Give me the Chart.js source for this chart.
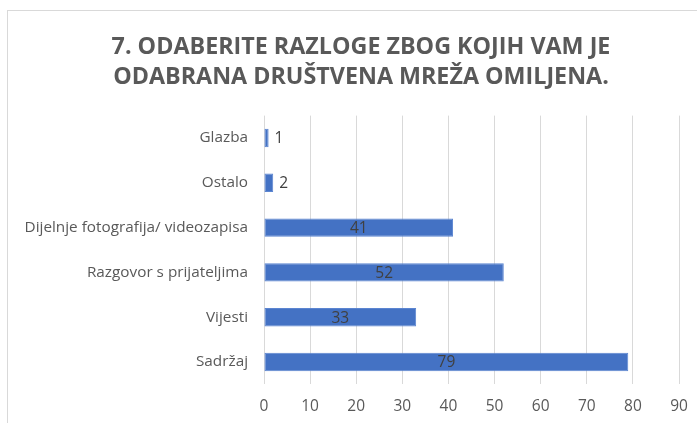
<!DOCTYPE html>
<html>
<head>
<meta charset="utf-8">
<script src="https://cdn.jsdelivr.net/npm/chart.js@4"></script>
<style>
  html, body { margin:0; padding:0; background:#fff; overflow:hidden; }
  #frame { position:absolute; left:7px; top:10px; width:740px; height:440px; border:1px solid #d9d9d9; }
  #wrap { position:absolute; left:0; top:0; width:697px; height:423px; }
</style>
</head>
<body>
<div id="frame"></div>
<div id="wrap"><canvas id="c"></canvas></div>
<script>
// Reasons the chosen social network is a favourite
const titleLines = ['7. ODABERITE RAZLOGE ZBOG KOJIH VAM JE', 'ODABRANA DRUŠTVENA MREŽA OMILJENA.'];
const categories = ['Glazba', 'Ostalo', 'Dijelnje fotografija/ videozapisa', 'Razgovor s prijateljima', 'Vijesti', 'Sadržaj'];
const counts = [1, 2, 41, 52, 33, 79];
const axisMax = 90;
const axisStep = 10;

const gray = '#595959';
const font = '"Open Sans", Arial, sans-serif';

// title drawn by hand so it can sit off-centre like the original
const chartTitle = {
  id: 'chartTitle',
  afterDraw(chart){
    const ctx = chart.ctx;
    ctx.save();
    ctx.font = 'bold 23.3px ' + font;
    ctx.fillStyle = gray;
    ctx.textAlign = 'center';
    ctx.textBaseline = 'middle';
    titleLines.forEach((t, i) => ctx.fillText(t, 361, 47 + i * 30));
    ctx.restore();
  }
};

// data labels: centered inside long bars, after the end for short ones
const barLabels = {
  id: 'barLabels',
  afterDatasetsDraw(chart){
    const ctx = chart.ctx;
    const meta = chart.getDatasetMeta(0);
    ctx.save();
    ctx.font = '15.5px ' + font;
    ctx.fillStyle = '#404040';
    ctx.textBaseline = 'middle';
    meta.data.forEach((bar, i) => {
      const v = counts[i];
      if(v < 5){
        ctx.textAlign = 'left';
        ctx.fillText(String(v), bar.x + 6, bar.y + 1);
      } else {
        ctx.textAlign = 'center';
        ctx.fillText(String(v), (bar.x + bar.base) / 2, bar.y + 1);
      }
    });
    ctx.restore();
  }
};

new Chart(document.getElementById('c'), {
  type: 'bar',
  data: {
    labels: categories,
    datasets: [{
      data: counts,
      backgroundColor: '#4472C4',
      borderColor: '#5b85d1',
      borderWidth: 1,
      borderSkipped: false,
      barPercentage: 0.41,
      categoryPercentage: 1
    }]
  },
  options: {
    indexAxis: 'y',
    responsive: true,
    maintainAspectRatio: false,
    animation: false,
    layout: { padding: { left: 0, right: 18, top: 115.6, bottom: 0 } },
    plugins: {
      legend: { display: false },
      tooltip: { enabled: false },
      title: { display: false }
    },
    scales: {
      x: {
        min: 0,
        max: axisMax,
        ticks: { stepSize: axisStep, color: gray, font: { family: font, size: 15.5 }, padding: 13 },
        grid: { color: '#d9d9d9', lineWidth: 1, drawTicks: false },
        border: { display: false },
        afterFit(scale){ scale.height = 38.6; scale.paddingLeft = 0; scale.paddingRight = 0; }
      },
      y: {
        ticks: { color: gray, font: { family: font, size: 15.3 }, padding: 16 },
        grid: { display: false, drawTicks: false },
        border: { display: false },
        afterFit(scale){ scale.width = 264; scale.paddingTop = 0; scale.paddingBottom = 0; }
      }
    }
  },
  plugins: [barLabels, chartTitle]
});
</script>
</body>
</html>
